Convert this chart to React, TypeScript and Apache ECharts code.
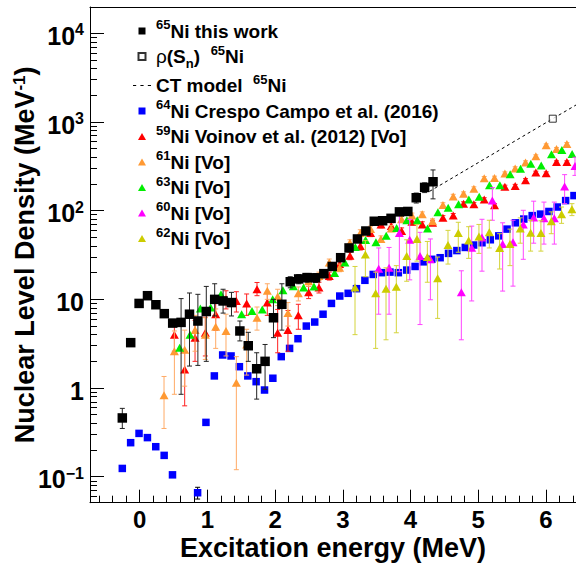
import React, { useEffect, useRef } from 'react';
import * as echarts from 'echarts';

// ---------------- data ----------------
// 65Ni this work
const ni65X = [-0.256, -0.132, -0.008, 0.116, 0.24, 0.364, 0.488, 0.612, 0.736, 0.86, 0.984, 1.108, 1.232, 1.356, 1.48, 1.604, 1.728, 1.852, 1.976, 2.1, 2.224, 2.348, 2.472, 2.596, 2.72, 2.844, 2.968, 3.092, 3.216, 3.34, 3.464, 3.588, 3.712, 3.836, 3.96, 4.084, 4.208, 4.332];
const ni65Y = [0.46, 3.25, 9.0, 11.0, 8.7, 6.9, 5.4, 5.5, 6.8, 5.7, 7.3, 10.0, 9.6, 9.2, 4.4, 3.0, 1.65, 2.0, 6.2, 8.8, 15.8, 17.0, 17.6, 17.5, 19.5, 23.5, 29.5, 38, 48, 59, 76, 77, 82, 97, 98, 140, 183, 212];
const ni65Lo = [0.35, 3.0, 8.5, 10.4, 8.2, 6.5, 5.0, 0.85, 1.77, 1.8, 2.0, 6.5, 7.0, 6.5, 3.4, 2.0, 0.75, 0.97, 3.7, 4.5, 13.5, 15, 15.6, 15.5, 17.5, 21.3, 27, 35, 44, 54, 70, 71, 75, 89, 90, 122, 160, 136];
const ni65Hi = [0.59, 3.5, 9.5, 11.6, 9.2, 7.3, 5.8, 10.2, 11.8, 11.4, 14, 15, 13, 12, 5.7, 4.25, 2.5, 3.1, 10, 15, 18, 19, 19.6, 19.5, 21.5, 25.7, 32, 41, 52, 64, 82, 83, 89, 105, 106, 158, 206, 288];

// rho(Sn) 65Ni
const snX = [6.1];
const snY = [1090];

// CT model 65Ni
const ctX = [4.28, 6.1, 6.6];
const ctY = [165, 1090, 1830];

// 64Ni Crespo Campo et al. (2016)
const ni64X = [-0.256, -0.133, -0.009, 0.115, 0.238, 0.362, 0.485, 0.856, 0.979, 1.103, 1.226, 1.35, 1.473, 1.597, 1.72, 1.844, 1.967, 2.091, 2.214, 2.338, 2.461, 2.585, 2.708, 2.832, 2.955, 3.079, 3.202, 3.326, 3.449, 3.573, 3.696, 3.82, 3.943, 4.067, 4.19, 4.314, 4.437, 4.561, 4.684, 4.808, 4.931, 5.055, 5.178, 5.302, 5.425, 5.549, 5.672, 5.796, 5.919, 6.043, 6.166, 6.29, 6.413];
const ni64Y = [0.124, 0.242, 0.308, 0.276, 0.218, 0.174, 0.105, 0.066, 0.41, 1.37, 2.36, 2.3, 1.74, 1.37, 1.18, 0.95, 1.29, 2.26, 2.8, 3.6, 5.0, 5.55, 6.8, 9.0, 10.9, 11.7, 13.2, 16.4, 19.1, 20.0, 20.3, 20.0, 21.4, 23.5, 26.5, 28.3, 29.5, 33, 35.5, 38.5, 41, 43.5, 47, 52, 62, 73, 80.5, 88, 91.5, 98, 110, 130, 148];
const ni64ErrX = [0.856];
const ni64ErrLo = [0.056];
const ni64ErrHi = [0.076];

// 59Ni Voinov et al. (2012)
const ni59X = [0.513, 0.665, 0.818, 0.97, 1.123, 1.275, 1.428, 1.58, 1.733, 1.885, 2.038, 2.19, 2.343, 2.495, 2.648, 2.8, 2.953, 3.105, 3.258, 3.41, 3.563, 3.715, 3.868, 4.02, 4.173, 4.325, 4.478, 4.63, 4.783, 4.935, 5.088, 5.24, 5.393, 5.545, 5.698, 5.85, 6.003, 6.155, 6.308];
const ni59Y = [4.0, 1.62, 3.7, 4.2, 6.8, 10.0, 9.6, 9.0, 13.0, 9.2, 4.2, 4.5, 6.6, 12.0, 13.6, 18.3, 25, 31, 40, 56, 70, 67, 59, 75, 70, 73, 83, 88, 120, 118, 134, 115, 186, 190, 221, 269, 264, 353, 353];
const ni59Lo = [2.6, 0.63, 2.0, 2.3, 4.5, 7.8, 7.2, 6.6, 11.0, 6.6, 2.5, 2.6, 4.6, 10.2, 11.8, 16.5, 22.5, 28, 36, 51, 64, 61, 54, 69, 65, 68, 78, 83, 114, 112, 128, 110, 178, 182, 212, 259, 254, 341, 341];
const ni59Hi = [5.6, 2.6, 5.8, 6.3, 9.5, 12.5, 12.2, 11.5, 15.5, 12, 7.7, 7.5, 8.8, 14, 15.6, 20.3, 27.5, 34, 44, 61, 76, 73, 64, 81, 75, 78, 88, 93, 126, 124, 140, 120, 194, 198, 230, 279, 274, 365, 365];

// 61Ni [Vo]
const ni61X = [0.36, 0.513, 0.665, 0.818, 0.97, 1.123, 1.275, 1.428, 1.58, 1.733, 1.885, 2.038, 2.19, 2.343, 2.495, 2.648, 2.8, 2.953, 3.105, 3.258, 3.41, 3.563, 3.715, 3.868, 4.02, 4.173, 4.325, 4.478, 4.63, 4.783, 4.935, 5.088, 5.24, 5.393, 5.545, 5.698, 5.85, 6.003, 6.155, 6.308];
const ni61Y = [0.83, 2.6, 2.7, 4.5, 4.0, 4.9, 4.4, 1.15, 3.1, 6.2, 12.5, 10.8, 7.0, 11.7, 16, 18.3, 26, 22.8, 43.6, 56, 62, 48, 63, 80, 88, 91, 76, 116, 145, 155, 177, 232, 234, 262, 300, 350, 410, 546, 495, 565];
const ni61Lo = [0.35, 0.85, 1.05, 2.6, 2.1, 2.8, 2.3, 0.12, 1.4, 4.5, 10, 8.5, 5.0, 9.6, 14, 16.3, 23.5, 20.5, 40, 51, 57, 44, 58, 74, 82, 85, 71, 109, 137, 147, 168, 221, 223, 250, 287, 335, 393, 525, 475, 543];
const ni61Hi = [1.35, 4.4, 4.5, 6.6, 6.2, 7.8, 6.8, 2.26, 4.6, 8.2, 15, 13, 9.2, 13.8, 18, 20.3, 28.5, 25, 47, 61, 67, 52, 68, 86, 94, 97, 81, 123, 153, 163, 186, 243, 245, 274, 313, 365, 427, 567, 515, 587];

// 63Ni [Vo]
const ni63X = [0.591, 0.744, 0.896, 1.049, 1.201, 1.354, 1.506, 1.659, 1.811, 1.964, 2.116, 2.269, 2.421, 2.574, 2.726, 2.879, 3.031, 3.184, 3.336, 3.489, 3.641, 3.794, 3.946, 4.099, 4.251, 4.404, 4.556, 4.709, 4.861, 5.014, 5.166, 5.319, 5.471, 5.624, 5.776, 5.929, 6.081, 6.234, 6.386];
const ni63Y = [2.85, 4.0, 7.9, 8.1, 11.4, 9.6, 6.8, 7.4, 7.7, 10.0, 12.7, 14.1, 13.6, 14.0, 19.4, 19.8, 26, 39, 46.6, 44, 52, 64, 78, 78, 63, 96, 108, 118, 134, 144, 193, 193, 257, 298, 339, 324, 432, 483, 435];

// 60Ni [Vo]
const ni60X = [3.53, 3.683, 3.835, 3.988, 4.14, 4.293, 4.75, 4.903, 5.055, 5.208, 5.36, 5.513, 5.665, 5.818, 5.97, 6.123, 6.275, 6.428];
const ni60Y = [22.2, 22.7, 56, 47, 30.8, 28.3, 12.0, 38.3, 49.7, 130, 42, 44, 70, 84, 82, 82, 188, 320];
const ni60Lo = [6.8, 6.8, 20.5, 16.6, 5.2, 9.9, 3.5, 9.6, 20.8, 78, 12.4, 14.1, 28.3, 43, 42, 42, 120, 250];
const ni60Hi = [38, 38.5, 95, 80, 57, 48, 21, 67, 80, 182, 73, 78, 101, 128, 125, 125, 255, 400];

// 62Ni [Vo]
const ni62X = [3.18, 3.333, 3.485, 3.638, 3.79, 3.943, 4.095, 4.248, 4.4, 4.553, 4.705, 4.858, 5.01, 5.163, 5.315, 5.468, 5.62, 5.773, 5.925, 6.078, 6.23, 6.383];
const ni62Y = [13.6, 32, 11.7, 13.2, 13.9, 30.8, 48, 30, 17.3, 41, 56, 46, 51, 57, 38, 42, 63, 56.5, 56, 76, 91, 104];
const ni62Lo = [4.0, 18, 2.8, 3.5, 4.2, 16, 27, 15.6, 6.1, 25, 34, 29, 33, 38, 22, 24, 43, 35, 35, 55, 72, 88];
const ni62Hi = [23.5, 46, 20.3, 22.7, 24, 47, 70, 45, 30, 60, 74, 66, 70, 78, 55, 62, 83, 78, 77, 97, 110, 120];

// axis ticks / labels
const xTickValues = [0, 1, 2, 3, 4, 5, 6];
const yTickValues = [0.1, 1, 10, 100, 1000, 10000];
const yTickBase = ['10', '1', '10', '10', '10', '10'];
const yTickExp = ['\u22121', '', '', '2', '3', '4'];

// legend entries
const NAME_65 = '65Ni this work';
const NAME_SN = 'rho(Sn) 65Ni';
const NAME_CT = 'CT model 65Ni';
const NAME_64 = '64Ni Crespo Campo et al. (2016)';
const NAME_59 = '59Ni Voinov et al. (2012) [Vo]';
const NAME_61 = '61Ni [Vo]';
const NAME_63 = '63Ni [Vo]';
const NAME_60 = '60Ni [Vo]';
const NAME_62 = '62Ni [Vo]';

const legendRich: Record<string, string> = {
  [NAME_65]: '{sup|65}{m|Ni this work}',
  [NAME_SN]: '{rho|\u03c1}{m|(S}{sub|n}{m|)  }{sup|65}{m|Ni}',
  [NAME_CT]: '{m|CT model  }{sup|65}{m|Ni}',
  [NAME_64]: '{sup|64}{m|Ni Crespo Campo et al. (2016)}',
  [NAME_59]: '{sup|59}{m|Ni Voinov et al. (2012) [Vo]}',
  [NAME_61]: '{sup|61}{m|Ni [Vo]}',
  [NAME_63]: '{sup|63}{m|Ni [Vo]}',
  [NAME_60]: '{sup|60}{m|Ni [Vo]}',
  [NAME_62]: '{sup|62}{m|Ni [Vo]}',
};

// ---------------- layout constants ----------------
const FONT = "'Liberation Sans', Arial, Helvetica, sans-serif";
const X_MIN = -0.733;
const X_MAX = 6.443;
const Y_MIN = -1.293; // log10 space
const Y_MAX = 4.297;

const ICON_SQUARE = 'path://M0,0L7,0L7,7L0,7Z';
const ICON_TRI = 'path://M4,0L8,7L0,7Z';
const ICON_DASH = 'path://M0,0h3v1h-3zM7,0h3v1h-3zM14,0h3v1h-3z';

const L = (v: number) => Math.log10(v);

const xMinor: number[] = [];
for (let i = -3; i <= 32; i++) {
  if (i % 5 !== 0) xMinor.push(Math.round(i * 2) / 10);
}
const yMajor = yTickValues.map(L);
const yMinor: number[] = [];
for (let n = -2; n <= 4; n++) {
  for (let k = 2; k <= 9; k++) {
    const v = n + Math.log10(k);
    if (v > Y_MIN && v < Y_MAX) yMinor.push(v);
  }
}

function pts(xs: number[], ys: number[]) {
  return xs.map((x, i) => [x, L(ys[i])]);
}

function errSeries(id: string, xs: number[], lo: number[], hi: number[], color: string, z: number) {
  return {
    type: 'custom',
    id,
    name: id,
    xAxisIndex: 0,
    yAxisIndex: 0,
    z,
    silent: true,
    clip: true,
    data: xs.map((x, i) => [x, L(lo[i]), L(hi[i])]),
    encode: { x: 0, y: [1, 2] },
    renderItem: (_params: any, api: any) => {
      const a = api.coord([api.value(0), api.value(1)]);
      const b = api.coord([api.value(0), api.value(2)]);
      const w = 2.5;
      const style = { stroke: color, lineWidth: 1 };
      return {
        type: 'group',
        children: [
          { type: 'line', shape: { x1: a[0], y1: a[1], x2: b[0], y2: b[1] }, style },
          { type: 'line', shape: { x1: a[0] - w, y1: a[1], x2: a[0] + w, y2: a[1] }, style },
          { type: 'line', shape: { x1: b[0] - w, y1: b[1], x2: b[0] + w, y2: b[1] }, style },
        ],
      };
    },
  };
}

function scatter(name: string, xs: number[], ys: number[], symbol: string, size: any, color: string, z: number) {
  return {
    type: 'scatter',
    name,
    xAxisIndex: 0,
    yAxisIndex: 0,
    data: pts(xs, ys),
    symbol,
    symbolSize: size,
    itemStyle: { color, opacity: 1 },
    z,
    clip: true,
  };
}

const TRI: [number, number] = [9, 8];

export default function App() {
  const ref = useRef<HTMLDivElement>(null);

  useEffect(() => {
    if (!ref.current) return;
    const chart = echarts.init(ref.current, undefined, { renderer: 'svg' });

    const axisLineStyle = { color: '#000', width: 1 };
    const tickLabelRich = {
      b: { fontFamily: FONT, fontSize: 25, fontWeight: 'bold', color: '#000', lineHeight: 28 },
      e: { fontFamily: FONT, fontSize: 16, fontWeight: 'bold', color: '#000', lineHeight: 14, verticalAlign: 'top' },
    };

    const option: any = {
      animation: false,
      backgroundColor: '#fff',
      grid: { left: 90, right: 0, top: 7, bottom: 62.3, containLabel: false, outerBoundsMode: 'none' },
      xAxis: [
        {
          type: 'value', min: X_MIN, max: X_MAX, position: 'bottom',
          axisLine: { show: true, onZero: false, lineStyle: axisLineStyle },
          axisTick: { show: true, inside: true, length: 13, customValues: xTickValues, lineStyle: { color: '#000' } },
          axisLabel: { show: true, customValues: xTickValues, margin: 6.8, lineHeight: 20, fontFamily: FONT, fontSize: 24, fontWeight: 'bold', color: '#000' },
          splitLine: { show: false },
          name: 'Excitation energy (MeV)', nameLocation: 'middle', nameGap: 35.3, nameMoveOverlap: false,
          nameTextStyle: { fontFamily: FONT, fontSize: 27, fontWeight: 'bold', color: '#000', lineHeight: 20 },
        },
        {
          type: 'value', min: X_MIN, max: X_MAX, position: 'bottom',
          axisLine: { show: false, onZero: false },
          axisTick: { show: true, inside: true, length: 7, customValues: xMinor, lineStyle: { color: '#000' } },
          axisLabel: { show: false },
          splitLine: { show: false },
        },
        {
          type: 'value', min: X_MIN, max: X_MAX, position: 'top',
          axisLine: { show: true, onZero: false, lineStyle: axisLineStyle },
          axisTick: { show: false },
          axisLabel: { show: false },
          splitLine: { show: false },
        },
      ],
      yAxis: [
        {
          type: 'value', min: Y_MIN, max: Y_MAX, position: 'left',
          axisLine: { show: true, onZero: false, lineStyle: axisLineStyle },
          axisTick: { show: true, inside: true, length: 14, customValues: yMajor, lineStyle: { color: '#000' } },
          axisLabel: {
            show: true, customValues: yMajor, margin: 6, padding: [5, 0, 0, 0],
            formatter: (v: number) => {
              const i = yMajor.findIndex((t) => Math.abs(t - v) < 1e-6);
              if (i < 0) return '';
              return yTickExp[i] ? `{b|${yTickBase[i]}}{e|${yTickExp[i]}}` : `{b|${yTickBase[i]}}`;
            },
            rich: tickLabelRich,
          },
          splitLine: { show: false },
          name: '{t|Nuclear Level Density (MeV}{s|-1}{t|)}',
          nameLocation: 'middle', nameGap: 52, nameRotate: 90, nameMoveOverlap: false,
          nameTextStyle: {
            rich: {
              t: { fontFamily: FONT, fontSize: 27, fontWeight: 'bold', color: '#000', lineHeight: 27 },
              s: { fontFamily: FONT, fontSize: 17, fontWeight: 'bold', color: '#000', lineHeight: 12, verticalAlign: 'top' },
            },
          },
        },
        {
          type: 'value', min: Y_MIN, max: Y_MAX, position: 'left',
          axisLine: { show: false, onZero: false },
          axisTick: { show: true, inside: true, length: 7, customValues: yMinor, lineStyle: { color: '#000' } },
          axisLabel: { show: false },
          splitLine: { show: false },
        },
      ],
      legend: {
        orient: 'vertical', left: 133, top: 18, padding: 0, itemGap: 3,
        itemWidth: 18, itemHeight: 7, selectedMode: false, symbolKeepAspect: true,
        data: [
          { name: NAME_65, icon: ICON_SQUARE },
          { name: NAME_SN, icon: ICON_SQUARE },
          { name: NAME_CT, icon: ICON_DASH, itemStyle: { color: '#000', borderWidth: 0 } },
          { name: NAME_64, icon: ICON_SQUARE },
          { name: NAME_59, icon: ICON_TRI },
          { name: NAME_61, icon: ICON_TRI },
          { name: NAME_63, icon: ICON_TRI },
          { name: NAME_60, icon: ICON_TRI },
          { name: NAME_62, icon: ICON_TRI },
        ],
        formatter: (name: string) => legendRich[name] || name,
        textStyle: {
          fontFamily: FONT, fontSize: 19, fontWeight: 'bold', color: '#000',
          rich: {
            m: { fontFamily: FONT, fontSize: 19, fontWeight: 'bold', color: '#000', lineHeight: 26 },
            sup: { fontFamily: FONT, fontSize: 13, fontWeight: 'bold', color: '#000', lineHeight: 8, verticalAlign: 'top' },
            sub: { fontFamily: FONT, fontSize: 13, fontWeight: 'bold', color: '#000', lineHeight: 14, verticalAlign: 'bottom' },
            rho: { fontFamily: FONT, fontSize: 19, fontWeight: 'normal', color: '#000', lineHeight: 26 },
          },
        },
      },
      series: [
        scatter(NAME_64, ni64X, ni64Y, 'rect', 7.5, '#0000ff', 2),
        errSeries('err64', ni64ErrX, ni64ErrLo, ni64ErrHi, '#000', 2),
        errSeries('err59', ni59X, ni59Lo, ni59Hi, '#ff2020', 3),
        scatter(NAME_59, ni59X, ni59Y, 'triangle', TRI, '#ff0000', 3),
        errSeries('err61', ni61X, ni61Lo, ni61Hi, '#ffaa66', 4),
        scatter(NAME_61, ni61X, ni61Y, 'triangle', TRI, '#ff9933', 4),
        scatter(NAME_63, ni63X, ni63Y, 'triangle', TRI, '#00ee00', 5),
        errSeries('err60', ni60X, ni60Lo, ni60Hi, '#ff44ff', 6),
        scatter(NAME_60, ni60X, ni60Y, 'triangle', TRI, '#ff00ff', 6),
        errSeries('err62', ni62X, ni62Lo, ni62Hi, '#d4d43c', 7),
        scatter(NAME_62, ni62X, ni62Y, 'triangle', TRI, '#cccc00', 7),
        errSeries('err65', ni65X, ni65Lo, ni65Hi, '#222', 8),
        scatter(NAME_65, ni65X, ni65Y, 'rect', 9.5, '#000', 8),
        {
          type: 'line', name: NAME_CT, xAxisIndex: 0, yAxisIndex: 0,
          data: pts(ctX, ctY), symbol: 'none', showSymbol: false, clip: true, z: 9,
          lineStyle: { color: '#000', width: 1, type: [3, 3] },
          itemStyle: { color: '#000' },
        },
        {
          type: 'scatter', name: NAME_SN, xAxisIndex: 0, yAxisIndex: 0,
          data: pts(snX, snY), symbol: 'rect', symbolSize: 7, z: 10,
          itemStyle: { color: '#fff', borderColor: '#000', borderWidth: 1 },
        },
      ],
    };

    chart.setOption(option);
    return () => chart.dispose();
  }, []);

  return (
    <div
      ref={ref}
      style={{ position: 'fixed', left: 0, top: 0, width: 576, height: 565, background: '#fff' }}
    />
  );
}
